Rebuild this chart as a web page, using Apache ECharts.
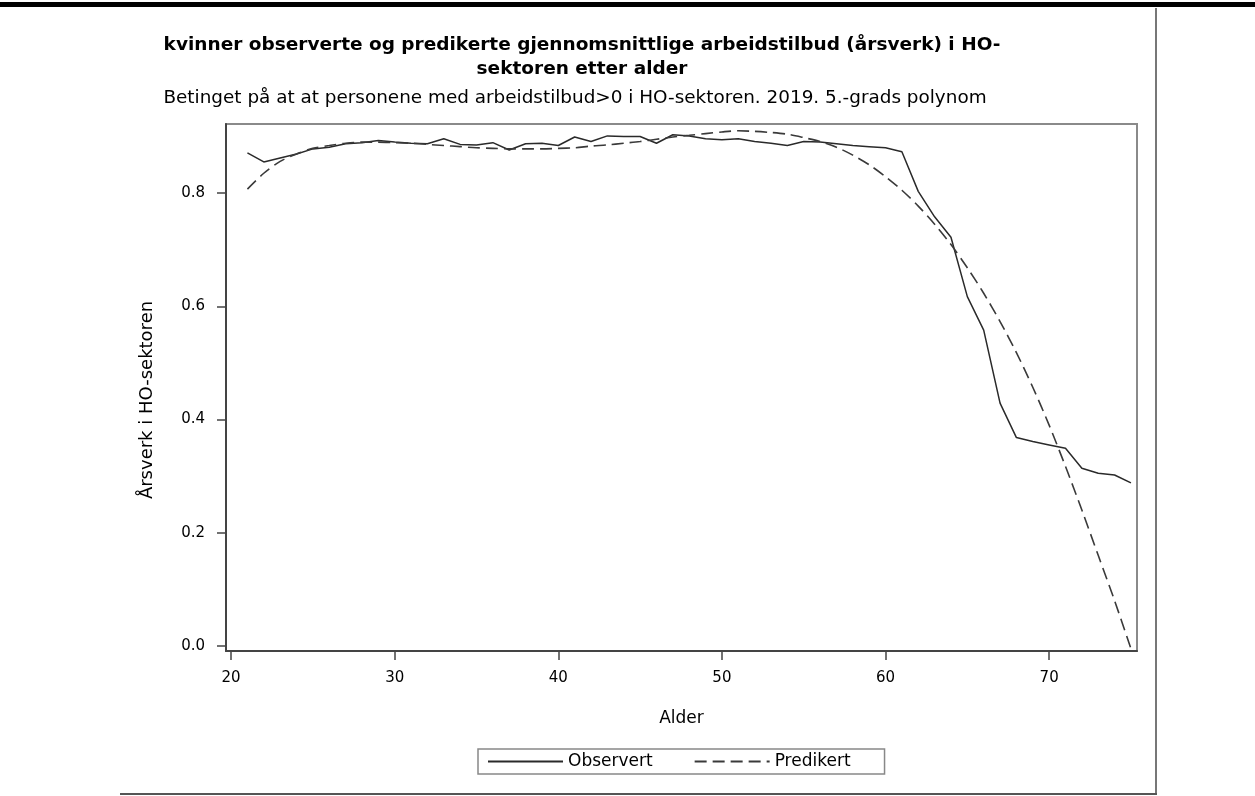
<!DOCTYPE html>
<html>
<head>
<meta charset="utf-8">
<script src="https://cdn.jsdelivr.net/npm/echarts@6/dist/echarts.min.js"></script>
<style>
  html, body { margin: 0; padding: 0; background: #fff; }
  #chart { width: 1255px; height: 796px; }
</style>
</head>
<body>
<div id="chart"></div>
<script>
var ages = [21, 22, 23, 24, 25, 26, 27, 28, 29, 30, 31, 32, 33, 34, 35, 36, 37, 38, 39, 40,
  41, 42, 43, 44, 45, 46, 47, 48, 49, 50, 51, 52, 53, 54, 55, 56, 57, 58, 59, 60,
  61, 62, 63, 64, 65, 66, 67, 68, 69, 70, 71, 72, 73, 74, 75];

// observert
var observert = [0.871, 0.855, 0.862, 0.869, 0.878, 0.881, 0.887, 0.889, 0.893, 0.890,
  0.888, 0.887, 0.896, 0.886, 0.885, 0.889, 0.876, 0.887, 0.888, 0.884,
  0.899, 0.891, 0.901, 0.900, 0.900, 0.888, 0.903, 0.901, 0.896, 0.894,
  0.896, 0.891, 0.888, 0.884, 0.891, 0.890, 0.887, 0.884, 0.882, 0.880,
  0.873, 0.803, 0.758, 0.722, 0.617, 0.558, 0.429, 0.368, 0.361, 0.355,
  0.349, 0.314, 0.305, 0.302, 0.288];

// predikert (5.-grads polynom)
var predikert = [0.807, 0.835, 0.856, 0.869, 0.879, 0.884, 0.888, 0.890, 0.890, 0.889,
  0.888, 0.886, 0.884, 0.882, 0.880, 0.879, 0.878, 0.878, 0.878, 0.879,
  0.880, 0.883, 0.885, 0.888, 0.891, 0.895, 0.899, 0.902, 0.905, 0.908,
  0.910, 0.909, 0.907, 0.904, 0.898, 0.891, 0.881, 0.867, 0.850, 0.829,
  0.805, 0.777, 0.745, 0.709, 0.668, 0.623, 0.573, 0.518, 0.457, 0.390,
  0.317, 0.240, 0.160, 0.080, -0.005];

var xTicks = [20, 30, 40, 50, 60, 70];
var yTicks = [0, 0.2, 0.4, 0.6, 0.8];

function pairs(vals) {
  var out = [];
  for (var i = 0; i < ages.length; i++) {
    out.push([ages[i], vals[i]]);
  }
  return out;
}

var myChart = echarts.init(document.getElementById('chart'));
var font = 'Liberation Sans, Arial, sans-serif';
var wide = 'DejaVu Sans, sans-serif';

var option = {
  animation: false,
  backgroundColor: '#fff',
  textStyle: { fontFamily: font },
  grid: {
    left: 226,
    top: 124,
    width: 911,
    height: 527,
    show: true,
    borderColor: '#8a8a8a',
    borderWidth: 2
  },
  graphic: [
    { type: 'rect', shape: { x: 0, y: 2, width: 1255, height: 5 }, style: { fill: '#000' } },
    { type: 'line', shape: { x1: 1156, y1: 8, x2: 1156, y2: 794 }, style: { stroke: '#777', lineWidth: 2 } },
    { type: 'line', shape: { x1: 120, y1: 794, x2: 1157, y2: 794 }, style: { stroke: '#555', lineWidth: 2 } },
    {
      type: 'text', x: 582, y: 45,
      style: { text: 'kvinner observerte og predikerte gjennomsnittlige arbeidstilbud (årsverk) i HO-',
        font: 'bold 18.5px ' + wide, fill: '#000', textAlign: 'center', textVerticalAlign: 'middle' }
    },
    {
      type: 'text', x: 582, y: 69,
      style: { text: 'sektoren etter alder',
        font: 'bold 18.5px ' + wide, fill: '#000', textAlign: 'center', textVerticalAlign: 'middle' }
    },
    {
      type: 'text', x: 575, y: 98,
      style: { text: 'Betinget på at at personene med arbeidstilbud>0 i HO-sektoren. 2019. 5.-grads polynom',
        font: '18.4px ' + wide, fill: '#000', textAlign: 'center', textVerticalAlign: 'middle' }
    },
    {
      // y-aksens navn
      type: 'text', x: 147, y: 400, rotation: Math.PI / 2,
      style: { text: 'Årsverk i HO-sektoren',
        font: '18px ' + wide, fill: '#000', textAlign: 'center', textVerticalAlign: 'middle' }
    }
  ],
  xAxis: {
    type: 'value',
    min: 19.69,
    max: 75.37,
    name: 'Alder',
    nameLocation: 'middle',
    nameGap: 59,
    nameTextStyle: { fontSize: 17, color: '#000', fontFamily: wide },
    axisLine: { show: true, onZero: false, lineStyle: { color: '#444', width: 2 } },
    axisTick: { show: true, length: 9, customValues: xTicks, lineStyle: { color: '#444', width: 1.5 } },
    axisLabel: { customValues: xTicks, fontSize: 15, color: '#000', margin: 20, fontFamily: wide },
    splitLine: { show: false }
  },
  yAxis: {
    type: 'value',
    min: -0.009,
    max: 0.922,
    axisLine: { show: true, onZero: false, lineStyle: { color: '#444', width: 2 } },
    axisTick: { show: true, length: 9, customValues: yTicks, lineStyle: { color: '#444', width: 1.5 } },
    axisLabel: {
      customValues: yTicks, fontSize: 15, color: '#000', margin: 21, fontFamily: wide,
      formatter: function (v) { return v.toFixed(1); }
    },
    splitLine: { show: false }
  },
  legend: {
    left: 478,
    top: 749,
    orient: 'horizontal',
    padding: [4, 34, 4, 9],
    itemWidth: 75,
    itemHeight: 14,
    itemGap: 41,
    borderColor: '#888',
    borderWidth: 1.5,
    itemStyle: { opacity: 0 },
    textStyle: { fontSize: 17, color: '#000', fontFamily: wide },
    data: ['Observert', 'Predikert']
  },
  series: [
    {
      name: 'Observert',
      type: 'line',
      data: pairs(observert),
      symbol: 'none',
      lineStyle: { color: '#2a2a2a', width: 1.5 },
      itemStyle: { color: '#2a2a2a' }
    },
    {
      name: 'Predikert',
      type: 'line',
      data: pairs(predikert),
      symbol: 'none',
      smooth: 0.3,
      lineStyle: { color: '#3a3a3a', width: 1.6, type: [12, 6] },
      itemStyle: { color: '#3a3a3a' }
    }
  ]
};

myChart.setOption(option);

window.addEventListener('resize', function () {
  myChart.resize();
});
</script>
</body>
</html>
